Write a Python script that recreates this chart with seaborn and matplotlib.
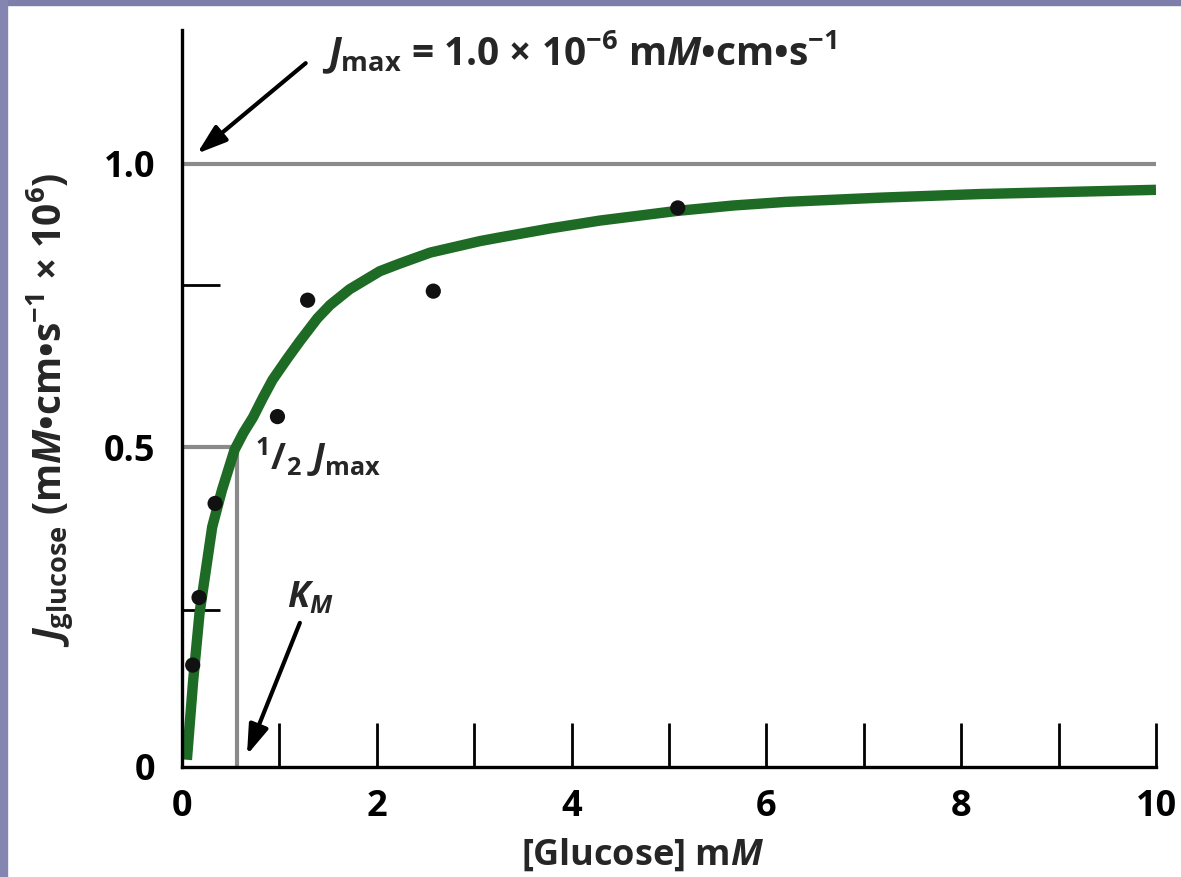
import matplotlib
matplotlib.use("Agg")
import matplotlib.pyplot as plt
from matplotlib.patches import Rectangle
import pandas as pd
import seaborn as sns

# Fitted curve
curve_x = [0.05, 0.115, 0.18, 0.31, 0.41, 0.54, 0.63, 0.73, 0.83, 0.93, 1.08,
           1.21, 1.39, 1.52, 1.72, 2.03, 2.24, 2.55, 3.06, 3.26, 3.78, 4.29,
           5.08, 5.66, 6.2, 7.17, 8.19, 10.0]
curve_y = [0.012, 0.144, 0.255, 0.398, 0.459, 0.526, 0.554, 0.58, 0.612, 0.642,
           0.677, 0.706, 0.744, 0.766, 0.792, 0.822, 0.835, 0.853, 0.872, 0.878,
           0.893, 0.906, 0.922, 0.931, 0.937, 0.944, 0.950, 0.957]

# Measured points
glucose = [0.11, 0.175, 0.34, 0.98, 1.29, 2.58, 5.09]
flux = [0.169, 0.281, 0.437, 0.581, 0.774, 0.789, 0.927]

j_max = 1.0
half_j = 0.53
k_m = 0.568

x_ticks = list(range(0, 11))
x_tick_labels = ["0", "", "2", "", "4", "", "6", "", "8", "", "10"]
y_ticks = [0, half_j, 1.0]
y_tick_labels = ["0", "0.5", "1.0"]
y_minor = [0.26, 0.80]

curve = pd.DataFrame({"x": curve_x, "y": curve_y})
points = pd.DataFrame({"x": glucose, "y": flux})

sns.set_theme(style="white")
plt.rcParams["font.family"] = ["Open Sans", "DejaVu Sans"]
plt.rcParams["font.weight"] = "bold"
plt.rcParams["mathtext.fontset"] = "custom"
plt.rcParams["mathtext.rm"] = "Open Sans:bold"
plt.rcParams["mathtext.it"] = "Open Sans:italic:bold"
plt.rcParams["mathtext.bf"] = "Open Sans:bold"

W, H = 1181, 877
fig = plt.figure(figsize=(W / 100, H / 100), dpi=100)
ax = fig.add_axes([182 / W, (H - 767) / H, (1156 - 182) / W, (767 - 30) / H])

green = "#1e6b25"
gray = "#8a8a8a"

# reference lines
ax.axhline(j_max, color=gray, lw=3, zorder=1)
ax.plot([0, k_m, k_m], [half_j, half_j, 0], color=gray, lw=3, zorder=1,
        solid_joinstyle="miter")

sns.lineplot(data=curve, x="x", y="y", ax=ax, color=green, lw=7.5,
             solid_capstyle="butt", solid_joinstyle="round", sort=False,
             zorder=2)
sns.scatterplot(data=points, x="x", y="y", ax=ax, color="#111111", s=120,
                edgecolor="none", zorder=3)

ax.set_xlim(0, 10)
ax.set_ylim(0, 1.222)
ax.set_xlabel("")
ax.set_ylabel("")

sns.despine(ax=ax)
for side in ["left", "bottom"]:
    ax.spines[side].set_color("black")
    ax.spines[side].set_linewidth(2.4)

ax.set_xticks(x_ticks, x_tick_labels)
ax.tick_params(axis="x", direction="in", length=31.5, width=2, pad=16,
               labelsize=26, colors="black", bottom=True)
ax.set_yticks(y_ticks, y_tick_labels)
ax.set_yticks(y_minor, minor=True)
ax.tick_params(axis="y", which="major", length=0, pad=19, labelsize=26,
               colors="black")
ax.tick_params(axis="y", which="minor", direction="in", length=27, width=2,
               colors="black", left=True)

# annotations
arrow = dict(arrowstyle="-|>,head_length=0.9,head_width=0.3", lw=3,
             color="black", mutation_scale=20, shrinkA=0, shrinkB=0)
ax.annotate("", xy=(0.154, 1.017), xytext=(1.27, 1.167), arrowprops=arrow)
ax.annotate("", xy=(0.667, 0.02), xytext=(1.21, 0.239), arrowprops=arrow)

fig.text(322 / W, 1 - 65 / H,
         r"$J_{\mathrm{max}}$ = 1.0 × 10$^{-6}$ m$M$•cm•s$^{-1}$",
         fontsize=28, ha="left", va="baseline")
ax.text(0.75, 0.493, r"$^{1}/_{2}\ J_{\mathrm{max}}$", fontsize=26,
        ha="left", va="baseline")
ax.text(1.08, 0.265, r"$K_M$", fontsize=26, ha="left", va="baseline")

fig.text(50 / W, 1 - 410 / H,
         r"$J_{\mathrm{glucose}}$ (m$M$•cm•s$^{-1}$ × 10$^{6}$)",
         fontsize=28, rotation=90, ha="center", va="center")
fig.text(643 / W, 1 - 855 / H, r"[Glucose] m$M$", fontsize=26,
         ha="center", va="center")

# slide frame
fig.patches.append(Rectangle((0, 1 - 5 / H), 1, 5 / H, transform=fig.transFigure,
                             color="#7e7eaa", zorder=10))
fig.patches.append(Rectangle((0, 0), 7 / W, 1, transform=fig.transFigure,
                             color="#8585b2", zorder=10))

fig.savefig("out.png", dpi=100)
